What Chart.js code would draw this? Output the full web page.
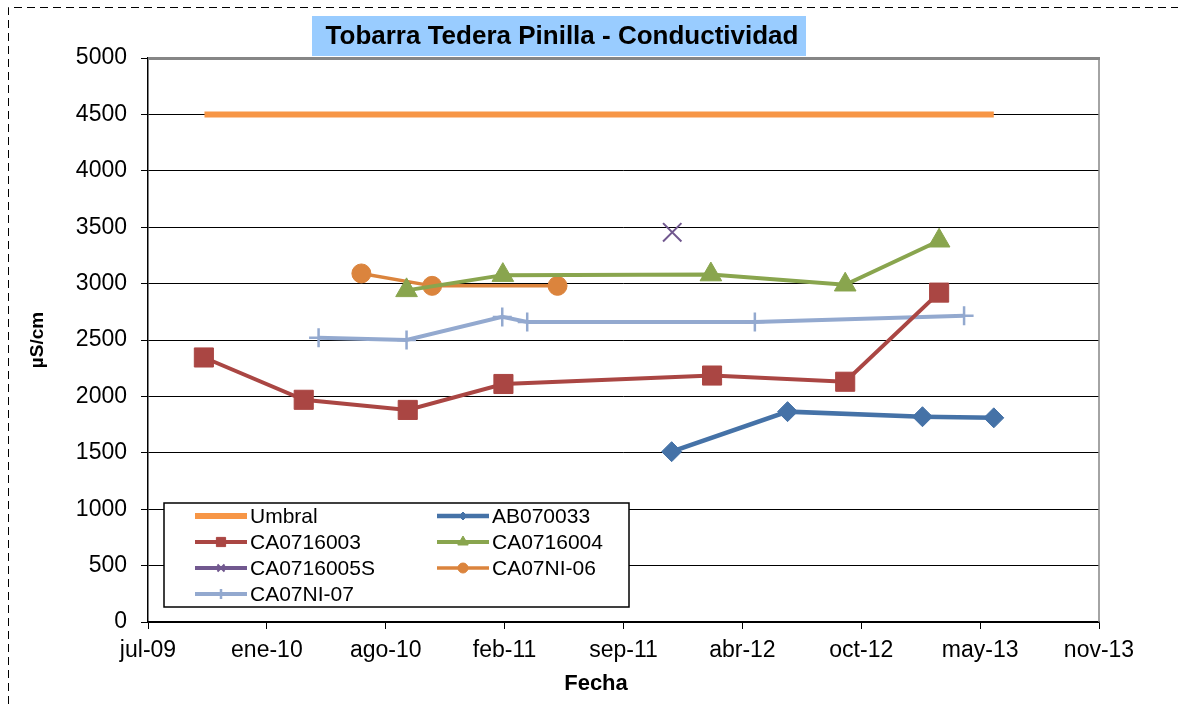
<!DOCTYPE html>
<html><head><meta charset="utf-8">
<script src="https://cdn.jsdelivr.net/npm/chart.js@4/dist/chart.umd.min.js"></script>
<style>html,body{margin:0;padding:0;background:#fff;}canvas{display:block;}</style>
</head><body>
<canvas id="c" width="1178" height="704"></canvas>
<script>
// ---- Text ----
const chartTitle = 'Tobarra Tedera Pinilla - Conductividad';
const xAxisTitle = 'Fecha';
const yAxisTitle = 'µS/cm';
const monthLabels = ['ene','feb','mar','abr','may','jun','jul','ago','sep','oct','nov','dic'];

// ---- Axis ranges (x in Excel serial days) ----
const xMin = 40000, xMax = 41600, xStep = 200;
const yMin = 0, yMax = 5000, yStep = 500;

// ---- Series ----
const umbralDates = ['2009-10-09','2013-05-29'];
const umbralValues = [4500, 4500];

const ab070033Dates = ['2011-12-04','2012-06-16','2013-01-29','2013-05-29'];
const ab070033Values = [1510, 1865, 1820, 1810];

const ca0716003Dates = ['2009-10-08','2010-03-25','2010-09-16','2011-02-24','2012-02-10','2012-09-21','2013-02-26'];
const ca0716003Values = [2345, 1970, 1880, 2110, 2185, 2130, 2920];

const ca0716004Dates = ['2010-09-14','2011-02-23','2012-02-08','2012-09-21','2013-02-26'];
const ca0716004Values = [2940, 3075, 3080, 2990, 3380];

const ca0716005SDates = ['2011-12-05'];
const ca0716005SValues = [3455];

const ca07ni06Dates = ['2010-06-30','2010-10-27','2011-05-26'];
const ca07ni06Values = [3090, 2980, 2980];

const ca07ni07Dates = ['2010-04-19','2010-09-14','2011-02-22','2011-04-05','2012-04-22','2013-04-09'];
const ca07ni07Values = [2520, 2500, 2705, 2660, 2660, 2715];

// ---- helpers ----
const EPOCH = Date.UTC(1899, 11, 30);
function toSerial(iso) {
  const [y, m, d] = iso.split('-').map(Number);
  return (Date.UTC(y, m - 1, d) - EPOCH) / 86400000;
}
function serialLabel(v) {
  const dt = new Date(EPOCH + v * 86400000);
  return monthLabels[dt.getUTCMonth()] + '-' + String(dt.getUTCFullYear() % 100).padStart(2, '0');
}
function pts(dates, values) { return dates.map((d, i) => ({ x: toSerial(d), y: values[i] })); }

const FONT = '"Liberation Sans", Arial, sans-serif';
Chart.defaults.font.family = FONT;
Chart.defaults.color = '#000';

function ds(label, dates, values, color, lineW, style, r, pbw, legendR) {
  return {
    label, data: pts(dates, values),
    borderColor: color, backgroundColor: color,
    borderWidth: lineW, tension: 0,
    pointStyle: style, pointRadius: r, pointHoverRadius: r,
    pointBackgroundColor: color, pointBorderColor: color, pointBorderWidth: pbw,
    legendRadius: legendR
  };
}

const datasets = [
  ds('Umbral', umbralDates, umbralValues, '#F79646', 6, 'circle', 0, 0, 0),
  ds('AB070033', ab070033Dates, ab070033Values, '#4572A7', 4.5, 'rectRot', 10, 1, 4),
  ds('CA0716003', ca0716003Dates, ca0716003Values, '#AA4643', 4, 'rect', 13.5, 1, 6.5),
  ds('CA0716004', ca0716004Dates, ca0716004Values, '#89A54E', 4, 'triangle', 12.5, 1, 6),
  ds('CA0716005S', ca0716005SDates, ca0716005SValues, '#71588F', 4, 'crossRot', 13, 2, 5),
  ds('CA07NI-06', ca07ni06Dates, ca07ni06Values, '#DB843D', 3.5, 'circle', 9.5, 1, 5),
  ds('CA07NI-07', ca07ni07Dates, ca07ni07Values, '#93A9CF', 4, 'cross', 9.5, 2.5, 5)
];

const decor = {
  id: 'decor',
  beforeDraw(chart) {
    const ctx = chart.ctx;
    ctx.save(); ctx.fillStyle = '#fff'; ctx.fillRect(0, 0, chart.width, chart.height); ctx.restore();
  },
  beforeDatasetsDraw(chart) {
    const { ctx, chartArea: a } = chart;
    ctx.save();
    ctx.strokeStyle = '#868686';
    ctx.lineWidth = 3;
    ctx.beginPath(); ctx.moveTo(a.left, a.top + 0.5); ctx.lineTo(a.right + 1, a.top + 0.5); ctx.stroke();
    ctx.lineWidth = 1.5;
    ctx.beginPath(); ctx.moveTo(a.right, a.top); ctx.lineTo(a.right, a.bottom); ctx.stroke();
    ctx.restore();
  },
  afterDraw(chart) {
    const ctx = chart.ctx;
    ctx.save();
    // outer dashed frame
    ctx.strokeStyle = '#000'; ctx.lineWidth = 1; ctx.setLineDash([8, 5]);
    ctx.beginPath(); ctx.moveTo(8.5, 704); ctx.lineTo(8.5, 7.5); ctx.lineTo(1178, 7.5); ctx.stroke();
    ctx.setLineDash([]);
    // title
    ctx.fillStyle = '#99CCFF';
    ctx.fillRect(312, 16, 494, 40);
    ctx.fillStyle = '#000';
    ctx.font = 'bold 26px ' + FONT;
    ctx.textAlign = 'center'; ctx.textBaseline = 'middle';
    ctx.fillText(chartTitle, 562, 37);
    // x axis title
    ctx.font = 'bold 22px ' + FONT;
    ctx.fillText(xAxisTitle, 596, 684);
    // legend
    ctx.fillStyle = '#fff'; ctx.fillRect(164, 503, 465, 104);
    ctx.strokeStyle = '#000'; ctx.lineWidth = 1.5; ctx.strokeRect(164, 503, 465, 104);
    ctx.font = '21px ' + FONT; ctx.textAlign = 'left'; ctx.textBaseline = 'middle';
    const colX = [195, 437], row0 = 516, rowH = 26, lineLen = 52;
    chart.data.datasets.forEach((d, i) => {
      const x0 = colX[i % 2], y = row0 + Math.floor(i / 2) * rowH;
      ctx.strokeStyle = d.borderColor; ctx.lineWidth = d.borderWidth;
      ctx.beginPath(); ctx.moveTo(x0, y); ctx.lineTo(x0 + lineLen, y); ctx.stroke();
      if (d.legendRadius > 0) {
        ctx.fillStyle = d.pointBackgroundColor; ctx.strokeStyle = d.pointBorderColor;
        ctx.lineWidth = d.pointBorderWidth;
        Chart.helpers.drawPoint(ctx, { pointStyle: d.pointStyle, radius: d.legendRadius, rotation: 0, borderWidth: d.pointBorderWidth }, x0 + lineLen / 2, y);
      }
      ctx.fillStyle = '#000';
      ctx.fillText(d.label, x0 + lineLen + 3, y + 1);
    });
    ctx.restore();
  }
};

new Chart(document.getElementById('c'), {
  type: 'line',
  data: { datasets },
  options: {
    responsive: false, animation: false, events: [],
    layout: { padding: { left: 0, top: 58, right: 79, bottom: 0 } },
    plugins: { legend: { display: false }, title: { display: false }, tooltip: { enabled: false } },
    scales: {
      x: {
        type: 'linear', min: xMin, max: xMax,
        afterFit: s => { s.height = 82; },
        ticks: { stepSize: xStep, callback: v => serialLabel(v), font: { size: 23 }, padding: 8, maxRotation: 0, autoSkip: false },
        grid: { drawOnChartArea: false, drawTicks: true, tickLength: 7, color: '#000', lineWidth: 1 },
        border: { color: '#000', width: 1.5 }
      },
      y: {
        min: yMin, max: yMax,
        afterFit: s => { s.width = 148; },
        ticks: { stepSize: yStep, font: { size: 23 }, padding: 14, callback: v => String(v) },
        grid: { color: '#000', lineWidth: 1, tickLength: 7 },
        border: { color: '#000', width: 1.5 },
        title: { display: true, text: yAxisTitle, font: { size: 19, weight: 'bold' }, padding: { top: 26, bottom: 0 } }
      }
    }
  },
  plugins: [decor]
});
</script>
</body></html>
